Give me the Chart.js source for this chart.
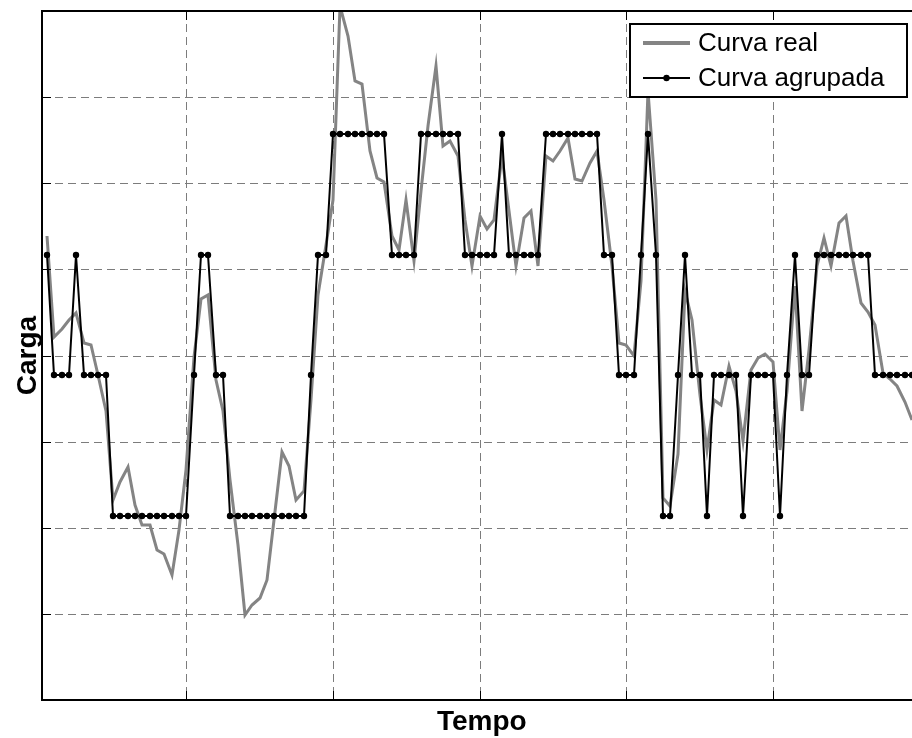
<!DOCTYPE html>
<html lang="pt">
<head>
<meta charset="UTF-8">
<title>Carga x Tempo</title>
<script src="https://cdn.jsdelivr.net/npm/chart.js@4.4.1/dist/chart.umd.min.js"></script>
<style>
    html, body { margin: 0; padding: 0; background: #ffffff; overflow: hidden; }
    /* the plot runs a little past the right edge of the window, like the original */
    .chart-box { position: relative; width: 930px; height: 738px; }
</style>
</head>
<body>
<div class="chart-box"><canvas id="cargaChart"></canvas></div>
<script>
// sample number along the time axis
const amostras = Array.from({ length: 119 }, (_, i) => i + 1);

// measured load (grey)
const curvaReal = [
    5.39, 4.21, 4.31, 4.41, 4.49, 4.14, 4.12, 3.77, 3.36, 2.32,
    2.53, 2.70, 2.26, 2.03, 2.03, 1.74, 1.70, 1.45, 1.97, 2.67,
    3.98, 4.66, 4.70, 3.71, 3.36, 2.55, 1.80, 0.99, 1.10, 1.18,
    1.39, 2.09, 2.88, 2.72, 2.32, 2.43, 3.48, 4.70, 5.28, 5.80,
    8.06, 7.71, 7.19, 7.15, 6.38, 6.06, 6.01, 5.39, 5.22, 5.80,
    5.10, 5.91, 6.67, 7.36, 6.43, 6.49, 6.32, 5.57, 5.04, 5.62,
    5.47, 5.57, 6.32, 5.68, 5.04, 5.60, 5.68, 5.04, 6.32, 6.26,
    6.38, 6.53, 6.05, 6.03, 6.24, 6.38, 5.80, 5.04, 4.14, 4.12,
    4.00, 4.87, 7.07, 5.80, 2.35, 2.25, 2.86, 4.75, 4.41, 3.54,
    2.90, 3.48, 3.42, 3.88, 3.59, 3.01, 3.83, 3.97, 4.02, 3.92,
    2.90, 3.59, 4.81, 3.36, 4.06, 5.04, 5.37, 5.04, 5.54, 5.62,
    5.10, 4.61, 4.50, 4.35, 3.80, 3.73, 3.65, 3.46, 3.25
];

// clustered load (black, 4 levels)
const curvaAgrupada = [
    5.17, 3.77, 3.77, 3.77, 5.17, 3.77, 3.77, 3.77, 3.77, 2.14,
    2.14, 2.14, 2.14, 2.14, 2.14, 2.14, 2.14, 2.14, 2.14, 2.14,
    3.77, 5.17, 5.17, 3.77, 3.77, 2.14, 2.14, 2.14, 2.14, 2.14,
    2.14, 2.14, 2.14, 2.14, 2.14, 2.14, 3.77, 5.17, 5.17, 6.57,
    6.57, 6.57, 6.57, 6.57, 6.57, 6.57, 6.57, 5.17, 5.17, 5.17,
    5.17, 6.57, 6.57, 6.57, 6.57, 6.57, 6.57, 5.17, 5.17, 5.17,
    5.17, 5.17, 6.57, 5.17, 5.17, 5.17, 5.17, 5.17, 6.57, 6.57,
    6.57, 6.57, 6.57, 6.57, 6.57, 6.57, 5.17, 5.17, 3.77, 3.77,
    3.77, 5.17, 6.57, 5.17, 2.14, 2.14, 3.77, 5.17, 3.77, 3.77,
    2.14, 3.77, 3.77, 3.77, 3.77, 2.14, 3.77, 3.77, 3.77, 3.77,
    2.14, 3.77, 5.17, 3.77, 3.77, 5.17, 5.17, 5.17, 5.17, 5.17,
    5.17, 5.17, 5.17, 3.77, 3.77, 3.77, 3.77, 3.77, 3.77
];

// grid positions (no labels are shown)
const ticksTempo = [20, 40, 60, 80, 100, 120];
const ticksCarga = [0, 1, 2, 3, 4, 5, 6, 7, 8];

const legendas = ["Curva real", "Curva agrupada"];

const FONTE = "'Liberation Sans', Arial, sans-serif";
const CINZA = "#848484";
const GRADE = "#7c7c7c";

document.addEventListener("DOMContentLoaded", function () {
    const canvas = document.getElementById("cargaChart");
    if (!canvas || !window.Chart) return;

    // frame, inward tick marks and the boxed legend inside the plot
    const molduraPlugin = {
        id: "moldura",
        afterDatasetsDraw(chart) {
            const { ctx, chartArea: a, scales } = chart;
            const len = 9;
            ctx.save();
            ctx.strokeStyle = "#000000";
            ctx.lineWidth = 1;
            ctx.beginPath();
            scales.x.ticks.forEach(t => {
                const px = Math.round(scales.x.getPixelForValue(t.value)) + 0.5;
                ctx.moveTo(px, a.bottom); ctx.lineTo(px, a.bottom - len);
                ctx.moveTo(px, a.top); ctx.lineTo(px, a.top + len);
            });
            scales.y.ticks.forEach(t => {
                const py = Math.round(scales.y.getPixelForValue(t.value)) + 0.5;
                ctx.moveTo(a.left, py); ctx.lineTo(a.left + len, py);
                ctx.moveTo(a.right, py); ctx.lineTo(a.right - len, py);
            });
            ctx.stroke();
            ctx.lineWidth = 2;
            ctx.strokeRect(a.left, a.top, a.right - a.left, a.bottom - a.top);
            ctx.restore();
        },
        afterDraw(chart) {
            const ctx = chart.ctx;
            const bx = 630, by = 24, bw = 277, bh = 73;
            ctx.save();
            ctx.fillStyle = "#ffffff";
            ctx.fillRect(bx, by, bw, bh);
            ctx.strokeStyle = "#000000";
            ctx.lineWidth = 2;
            ctx.strokeRect(bx, by, bw, bh);

            const rows = [43, 78];
            chart.data.datasets.forEach((ds, i) => {
                const y = rows[i];
                ctx.strokeStyle = ds.borderColor;
                ctx.lineWidth = i === 0 ? 4 : ds.borderWidth;
                ctx.beginPath();
                ctx.moveTo(643, y);
                ctx.lineTo(690, y);
                ctx.stroke();
                if (ds.pointRadius > 0) {
                    ctx.fillStyle = ds.pointBackgroundColor;
                    ctx.beginPath();
                    ctx.arc(666.5, y, ds.pointRadius, 0, Math.PI * 2);
                    ctx.fill();
                }
                ctx.fillStyle = "#000000";
                ctx.font = "26px " + FONTE;
                ctx.textBaseline = "middle";
                ctx.textAlign = "left";
                ctx.fillText(ds.label, 698, y + 1);
            });
            ctx.restore();
        }
    };

    new Chart(canvas.getContext("2d"), {
        type: "line",
        data: {
            datasets: [
                {
                    label: legendas[0],
                    data: amostras.map((t, i) => ({ x: t, y: curvaReal[i] })),
                    borderColor: CINZA,
                    borderWidth: 3,
                    pointRadius: 0,
                    tension: 0,
                    order: 2
                },
                {
                    label: legendas[1],
                    data: amostras.map((t, i) => ({ x: t, y: curvaAgrupada[i] })),
                    borderColor: "#000000",
                    borderWidth: 2,
                    pointRadius: 3.2,
                    pointBackgroundColor: "#000000",
                    pointBorderColor: "#000000",
                    pointBorderWidth: 0,
                    tension: 0,
                    order: 1
                }
            ]
        },
        options: {
            responsive: true,
            maintainAspectRatio: false,
            animation: false,
            layout: { padding: { left: 0, top: 11, right: 8.4, bottom: 0 } },
            plugins: {
                legend: { display: false },
                tooltip: { enabled: false }
            },
            scales: {
                x: {
                    type: "linear",
                    min: 0.3,
                    max: 120.3,
                    alignToPixels: true,
                    afterBuildTicks: axis => { axis.ticks = ticksTempo.map(v => ({ value: v })); },
                    ticks: { display: false },
                    grid: { color: GRADE, lineWidth: 1, drawTicks: false },
                    border: { display: false, dash: [8, 5] },
                    title: {
                        display: true,
                        text: "Tempo",
                        color: "#000000",
                        font: { family: FONTE, size: 28, weight: "bold", lineHeight: 1 },
                        padding: { top: 8, bottom: 2 }
                    }
                },
                y: {
                    min: 0,
                    max: 8,
                    alignToPixels: true,
                    afterBuildTicks: axis => { axis.ticks = ticksCarga.map(v => ({ value: v })); },
                    ticks: { display: false },
                    grid: { color: GRADE, lineWidth: 1, drawTicks: false },
                    border: { display: false, dash: [8, 5] },
                    title: {
                        display: true,
                        text: "Carga",
                        color: "#000000",
                        font: { family: FONTE, size: 28, weight: "bold", lineHeight: 1 },
                        padding: { top: 14, bottom: 0 }
                    }
                }
            }
        },
        plugins: [molduraPlugin]
    });
});
</script>
</body>
</html>
